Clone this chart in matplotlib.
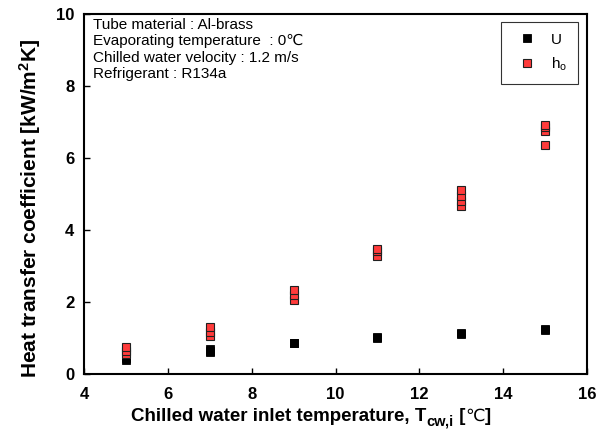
import matplotlib
matplotlib.use('Agg')
import matplotlib.pyplot as plt

plt.rcParams['font.family'] = ['Liberation Sans', 'DejaVu Sans']
plt.rcParams['mathtext.fontset'] = 'custom'
plt.rcParams['mathtext.rm'] = 'Liberation Sans'
plt.rcParams['mathtext.bf'] = 'Liberation Sans:bold'
plt.rcParams['mathtext.it'] = 'Liberation Sans:italic'

# chilled water inlet temperature for each measurement
t_u = [5, 5, 5, 7, 7, 7, 9, 9, 11, 11, 13, 13, 15, 15]
u = [0.40, 0.45, 0.50, 0.60, 0.65, 0.70, 0.85, 0.87, 1.00, 1.02, 1.10, 1.13, 1.22, 1.25]

t_ho = [5, 5, 5, 7, 7, 7, 9, 9, 9, 11, 11, 11, 13, 13, 13, 13, 15, 15, 15, 15]
ho = [0.55, 0.65, 0.75, 1.05, 1.18, 1.30, 2.05, 2.20, 2.32, 3.28, 3.42, 3.48,
      4.68, 4.80, 4.95, 5.10, 6.35, 6.75, 6.85, 6.92]

notes = ['Tube material : Al-brass',
         'Evaporating temperature  : 0\u2103',
         'Chilled water velocity : 1.2 m/s',
         'Refrigerant : R134a']

# x label pieces: (text, size, weight, baseline shift in px)
xlabel_parts = [('Chilled water inlet temperature, T', 13.5, 'bold', 0),
                ('cw,i', 10.5, 'bold', -5),
                (' [', 13.5, 'bold', 0),
                ('\u2103', 12.5, 'normal', 0),
                (']', 13.5, 'bold', 0)]

fig = plt.figure(figsize=(6.11, 4.47), dpi=100)
ax = fig.add_axes([0.1375, 0.1633, 0.8232, 0.8054])

ax.plot(t_u, u, 's', color='black', markersize=6, markeredgecolor='black',
        markeredgewidth=0.6, label='U', zorder=3)
ax.plot(t_ho, ho, 's', color='#ff3b3b', markersize=6, markeredgecolor='#202020',
        markeredgewidth=0.8, label='h$_\\mathrm{o}$', zorder=3)

ax.set_xlim(4, 16)
ax.set_ylim(0, 10)
ax.set_xticks([4, 6, 8, 10, 12, 14, 16])
ax.set_yticks([0, 2, 4, 6, 8, 10])
ax.tick_params(direction='in', length=4, width=1, labelsize=12)
ax.tick_params(axis='x', pad=9)
ax.tick_params(axis='y', pad=7)
for lbl in ax.get_xticklabels() + ax.get_yticklabels():
    lbl.set_fontweight('bold')
for sp in ax.spines.values():
    sp.set_linewidth(1.5)

ax.set_ylabel('Heat transfer coefficient [kW/m$^\\mathbf{2}$K]',
              fontsize=15, fontweight='bold')
ax.yaxis.set_label_coords(-0.082, 0.46)

# build the x label piece by piece so the degree sign can fall back to DejaVu
renderer = fig.canvas.get_renderer()
W, H = 611, 447
pieces = []
total = 0
for txt, size, weight, dy in xlabel_parts:
    t = fig.text(0, 0, txt, fontsize=size, fontweight=weight, va='baseline', ha='left')
    w = t.get_window_extent(renderer).width
    pieces.append((t, w, dy))
    total += w
x0 = 311 - total / 2
base = 447 - 421
for t, w, dy in pieces:
    t.set_position((x0 / W, (base + dy) / H))
    x0 += w

ax.text(0.018, 0.99, '\n'.join(notes), transform=ax.transAxes, fontsize=11,
        va='top', ha='left', linespacing=1.22)

leg = ax.legend(loc='upper right', bbox_to_anchor=(0.982, 0.978),
                borderaxespad=0, fontsize=11, markerscale=0.9,
                frameon=True, fancybox=False, edgecolor='black',
                handlelength=2.0, handletextpad=0.6, borderpad=0.7,
                labelspacing=0.6)
leg.get_frame().set_linewidth(0.8)

fig.savefig('out.png', dpi=100)
